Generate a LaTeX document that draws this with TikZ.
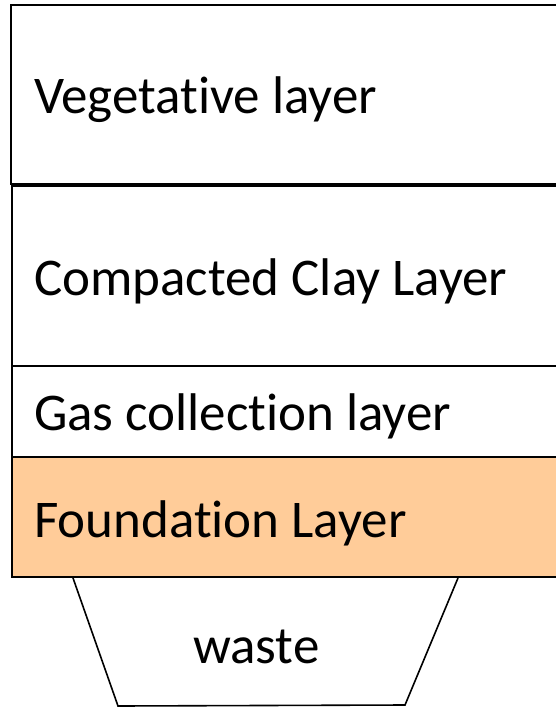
\documentclass[tikz,border=0pt]{standalone}
\usepackage{fontspec}
\setmainfont{Carlito}[Ligatures=NoCommon]
\usetikzlibrary{positioning}
\definecolor{foundcol}{HTML}{FFCC99}

\begin{document}
\begin{tikzpicture}[x=1pt, y=-1pt, line width=2.2pt]
        \tikzset{layertext/.style={anchor=base west, inner sep=0pt, font=\fontsize{53}{60}\selectfont}}
        \useasboundingbox (0,0) rectangle (555,711);
        % Vegetative layer
        \draw (11,5) rectangle (560,184);
        \node[layertext] (veg) at (33,114) {Vegetative layer};
        % Compacted clay layer
        \draw (12,186) rectangle (560,366);
        \node[layertext] (clay) at (33,295) {Compacted Clay Layer};
        % Gas collection layer
        \draw (12,366) rectangle (560,457);
        \node[layertext] (gas) at (33,430) {Gas collection layer};
        % Foundation layer
        \draw[fill=foundcol] (12,457) rectangle (560,577);
        \node[layertext] (found) at (33,537) {Foundation Layer};
        % Waste
        \draw[line width=1.6pt] (73,578) -- (118,706) -- (405,705) -- (458,578);
        \node[layertext] (waste) at (192,663) {waste};
    \end{tikzpicture}
\end{document}
